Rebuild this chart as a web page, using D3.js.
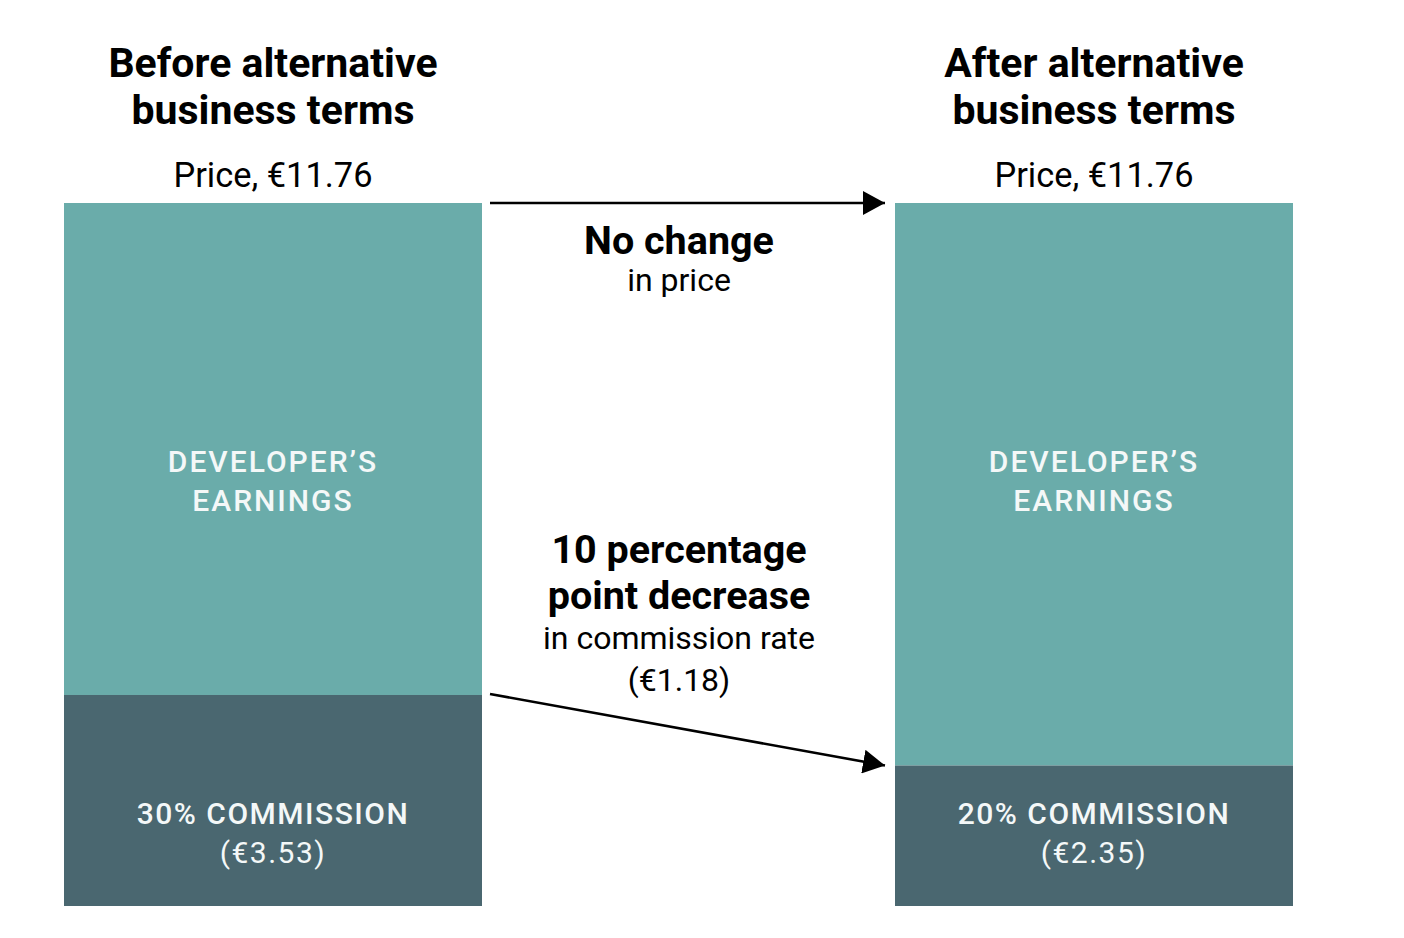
<!DOCTYPE html>
<html>
<head>
<meta charset="utf-8">
<script src="https://cdn.jsdelivr.net/npm/d3@7"></script>
<style>
  html, body { margin: 0; padding: 0; background: #ffffff; }
  svg { display: block; font-family: Roboto, "Noto Sans", sans-serif; }
</style>
</head>
<body>
<svg id="chart" width="1404" height="938"></svg>
<script>
// ---- data ----
const categories = ["Before", "After"];
const titles = [["Before alternative", "business terms"], ["After alternative", "business terms"]];
const prices = [11.76, 11.76];
const commissionRates = [30, 20];
const commissionValues = [3.53, 2.35];
const earningsLabel = ["DEVELOPER\u2019S", "EARNINGS"];
const priceNote = ["No change", "in price"];
const rateNote = ["10 percentage", "point decrease", "in commission rate", "(\u20ac1.18)"];

// ---- layout ----
const svg = d3.select("#chart");
const y = d3.scaleLinear().domain([0, 11.76]).range([906, 203]);
const xLeft = d3.scaleOrdinal().domain(categories).range([64, 895]);
const xWidth = d3.scaleOrdinal().domain(categories).range([418, 398]);
const cx = c => xLeft(c) + xWidth(c) / 2;

const teal = "#6aacaa";
const dark = "#4a6770";

const rows = categories.map((c, i) => ({
  cat: c, title: titles[i], price: prices[i], rate: commissionRates[i], comm: commissionValues[i]
}));

svg.selectAll("rect.earn").data(rows).join("rect")
  .attr("class", "earn")
  .attr("x", d => xLeft(d.cat))
  .attr("width", d => xWidth(d.cat))
  .attr("y", d => y(d.price))
  .attr("height", d => y(d.comm) - y(d.price))
  .attr("fill", teal);

svg.selectAll("rect.comm").data(rows).join("rect")
  .attr("class", "comm")
  .attr("x", d => xLeft(d.cat))
  .attr("width", d => xWidth(d.cat))
  .attr("y", d => y(d.comm))
  .attr("height", d => y(0) - y(d.comm))
  .attr("fill", dark);

rows.forEach(d => {
  const t = svg.append("text")
    .attr("text-anchor", "middle")
    .attr("font-weight", 700)
    .attr("font-size", 41)
    .attr("fill", "#000");
  t.append("tspan").attr("x", cx(d.cat)).attr("y", 77).text(d.title[0]);
  t.append("tspan").attr("x", cx(d.cat)).attr("y", 124).text(d.title[1]);

  svg.append("text")
    .attr("x", cx(d.cat)).attr("y", 187)
    .attr("text-anchor", "middle")
    .attr("font-size", 34.4)
    .attr("fill", "#000")
    .text("Price, \u20ac" + d.price.toFixed(2));

  const e = svg.append("text")
    .attr("text-anchor", "middle")
    .attr("font-size", 30)
    .attr("font-weight", 500)
    .attr("letter-spacing", 2)
    .attr("fill", "#f4f8f8");
  e.append("tspan").attr("x", cx(d.cat)).attr("y", 472).text(earningsLabel[0]);
  e.append("tspan").attr("x", cx(d.cat)).attr("y", 511).text(earningsLabel[1]);

  const m = svg.append("text")
    .attr("text-anchor", "middle")
    .attr("font-size", 30)
    .attr("font-weight", 500)
    .attr("letter-spacing", 1.5)
    .attr("fill", "#f4f8f8");
  m.append("tspan").attr("x", cx(d.cat)).attr("y", 824).text(d.rate + "% COMMISSION");
  m.append("tspan").attr("x", cx(d.cat)).attr("y", 863).attr("font-weight", 400).text("(\u20ac" + d.comm.toFixed(2) + ")");
});

const defs = svg.append("defs");
defs.append("marker")
  .attr("id", "arrow")
  .attr("viewBox", "0 0 22 24")
  .attr("refX", 22).attr("refY", 12)
  .attr("markerWidth", 22).attr("markerHeight", 24)
  .attr("markerUnits", "userSpaceOnUse")
  .attr("orient", "auto")
  .append("path").attr("d", "M0,0 L22,12 L0,24 Z").attr("fill", "#000");

const gapStart = xLeft(categories[0]) + xWidth(categories[0]) + 8;
const gapEnd = xLeft(categories[1]) - 10;
svg.append("line")
  .attr("x1", gapStart).attr("y1", y(prices[0]))
  .attr("x2", gapEnd).attr("y2", y(prices[1]))
  .attr("stroke", "#000").attr("stroke-width", 2.6)
  .attr("marker-end", "url(#arrow)");
svg.append("line")
  .attr("x1", gapStart).attr("y1", y(commissionValues[0]) - 1)
  .attr("x2", gapEnd).attr("y2", y(commissionValues[1]))
  .attr("stroke", "#000").attr("stroke-width", 2.6)
  .attr("marker-end", "url(#arrow)");

const midX = 679;
const n1 = svg.append("text").attr("text-anchor", "middle").attr("fill", "#000");
n1.append("tspan").attr("x", midX).attr("y", 254).attr("font-size", 39.5).attr("font-weight", 700).text(priceNote[0]);
n1.append("tspan").attr("x", midX).attr("y", 291).attr("font-size", 32).text(priceNote[1]);

const n2 = svg.append("text").attr("text-anchor", "middle").attr("fill", "#000");
n2.append("tspan").attr("x", midX).attr("y", 563).attr("font-size", 39.5).attr("font-weight", 700).text(rateNote[0]);
n2.append("tspan").attr("x", midX).attr("y", 609).attr("font-size", 39.5).attr("font-weight", 700).text(rateNote[1]);
n2.append("tspan").attr("x", midX).attr("y", 649).attr("font-size", 32).text(rateNote[2]);
n2.append("tspan").attr("x", midX).attr("y", 691).attr("font-size", 32).text(rateNote[3]);
</script>
</body>
</html>
